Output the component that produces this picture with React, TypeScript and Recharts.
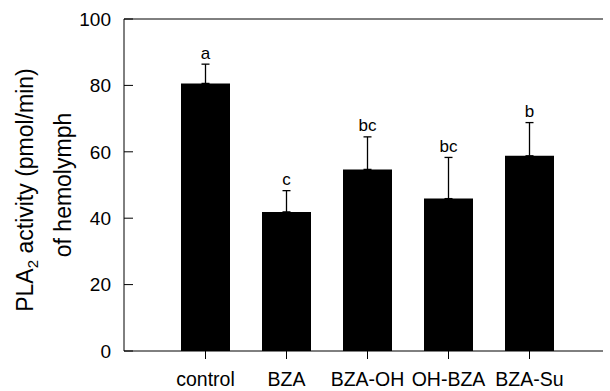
import React from 'react';
import { ComposedChart, Bar, XAxis, YAxis, ErrorBar, LabelList, ReferenceLine } from 'recharts';

const categories = ['control', 'BZA', 'BZA-OH', 'OH-BZA', 'BZA-Su'];
const activity = [80.6, 41.9, 54.7, 45.9, 58.8];
const errors = [5.8, 6.4, 9.8, 12.4, 10.0];
const letters = ['a', 'c', 'bc', 'bc', 'b'];
const yTicks = [0, 20, 40, 60, 80, 100];

const data = categories.map((c, i) => ({
  name: c,
  value: activity[i],
  err: [0, errors[i]],
  letter: letters[i],
}));

const FONT = '"Liberation Sans", Arial, sans-serif';

const YTick = (props: any) => {
  const { x, y, payload } = props;
  return (
    <g>
      <line x1={x + 12} y1={y} x2={x + 21} y2={y} stroke="#000" strokeWidth={1} />
      <text x={x - 1} y={y} dy="0.36em" textAnchor="end" fontSize={19} fontFamily={FONT} fill="#000">
        {payload.value}
      </text>
    </g>
  );
};

const YLabel = () => {
  const cy1 = 190;
  const cy2 = 185;
  const x1 = 33;
  const x2 = 71;
  return (
    <g>
      <text
        x={x1}
        y={cy1}
        transform={`rotate(-90, ${x1}, ${cy1})`}
        textAnchor="middle"
        fontSize={23}
        fontFamily={FONT}
        fill="#000"
      >
        PLA
        <tspan fontSize={15} dy={5}>2</tspan>
        <tspan dy={-5}> activity (pmol/min)</tspan>
      </text>
      <text
        x={x2}
        y={cy2}
        transform={`rotate(-90, ${x2}, ${cy2})`}
        textAnchor="middle"
        fontSize={23}
        fontFamily={FONT}
        fill="#000"
      >
        of hemolymph
      </text>
    </g>
  );
};

const LetterLabel = (props: any) => {
  const { x, y, width, height, index } = props;
  const v = activity[index];
  const e = errors[index];
  const pxPerUnit = height / v;
  const top = y - e * pxPerUnit;
  return (
    <text
      x={x + width / 2}
      y={top - 5.5}
      textAnchor="middle"
      fontSize={17}
      fontFamily={FONT}
      fill="#000"
    >
      {letters[index]}
    </text>
  );
};

export default function App() {
  return (
    <div style={{ position: 'absolute', left: 0, top: 0, background: '#fff' }}>
      <ComposedChart
        width={610}
        height={391}
        data={data}
        margin={{ top: 19, right: 7, bottom: 0, left: 0 }}
      >
        <XAxis
          dataKey="name"
          height={40}
          padding={{ left: 41, right: 33 }}
          tickSize={8}
          tickMargin={13}
          stroke="#000"
          tick={{ fontSize: 19.5, fontFamily: FONT, fill: '#000' }}
          axisLine={{ stroke: '#000' }}
          tickLine={{ stroke: '#000' }}
          interval={0}
        />
        <YAxis
          domain={[0, 100]}
          ticks={yTicks}
          width={124}
          tickSize={0}
          tickMargin={12}
          tickLine={false}
          axisLine={{ stroke: '#000' }}
          tick={<YTick />}
          label={<YLabel />}
          allowDataOverflow
        />
        <YAxis
          yAxisId="right"
          orientation="right"
          width={0}
          domain={[0, 100]}
          tick={false}
          tickLine={false}
          axisLine={{ stroke: '#000' }}
        />
        <ReferenceLine y={100} stroke="#000" ifOverflow="visible" />
        <Bar dataKey="value" fill="#000" barSize={49} isAnimationActive={false}>
          <ErrorBar dataKey="err" width={4} stroke="#000" strokeWidth={1.3} direction="y" />
          <LabelList dataKey="letter" content={<LetterLabel />} />
        </Bar>
      </ComposedChart>
    </div>
  );
}
